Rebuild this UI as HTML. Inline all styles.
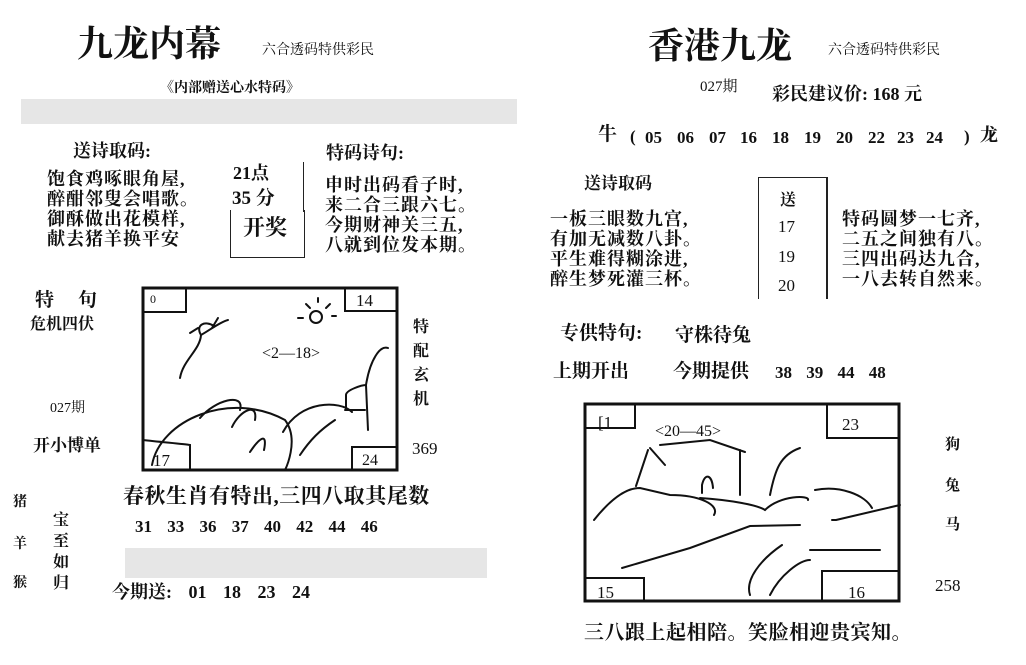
<!DOCTYPE html>
<html><head><meta charset="utf-8"><style>
body{margin:0;width:1026px;height:665px;background:#fff;overflow:hidden;position:relative;font-family:"Liberation Serif","Noto Serif CJK SC",serif;color:#111}
.t{position:absolute;white-space:nowrap;line-height:1}
.b{font-weight:bold}
.g{position:absolute;background:#e6e6e6}
.poem{position:absolute;font-size:18px;line-height:20px;font-weight:bold;white-space:pre;font-family:"Liberation Serif","Noto Serif CJK SC",serif;letter-spacing:1px}
svg{position:absolute;left:0;top:0}
</style></head><body>
<div class="t" style="left:77px;top:24px;font-size:36px;font-family:'Noto Serif CJK SC',serif;font-weight:bold">九龙内幕</div>
<div class="t" style="left:262px;top:44px;font-size:14px">六合透码特供彩民</div>
<div class="t b" style="left:160px;top:82px;font-size:14px">《内部赠送心水特码》</div>
<div class="g" style="left:21px;top:99px;width:496px;height:25px"></div>

<div class="t b" style="left:73px;top:142px;font-size:18px">送诗取码:</div>
<div class="poem" style="left:47px;top:169px">饱食鸡啄眼角屋,
醉酣邻叟会唱歌。
御酥做出花模样,
献去猪羊换平安</div>
<div class="t b" style="left:233px;top:164px;font-size:18px">21点</div>
<div class="t b" style="left:232px;top:189px;font-size:19px">35 分</div>
<div class="t b" style="left:243px;top:217px;font-size:22px">开奖</div>
<div style="position:absolute;left:230px;top:210px;width:73px;height:47px;border-left:1px solid #222;border-bottom:1px solid #222;border-right:1px solid #222"></div>
<div style="position:absolute;left:303px;top:162px;height:50px;border-left:1px solid #222"></div>
<div class="t b" style="left:326px;top:144px;font-size:18px">特码诗句:</div>
<div class="poem" style="left:325px;top:175px">申时出码看子时,
来二合三跟六七。
今期财神关三五,
八就到位发本期。</div>

<div class="t b" style="left:35px;top:291px;font-size:19px;letter-spacing:24px">特句</div>
<div class="t b" style="left:30px;top:317px;font-size:16px">危机四伏</div>
<div class="t" style="left:50px;top:402px;font-size:14px">027期</div>
<div class="t b" style="left:33px;top:437px;font-size:17px">开小博单</div>
<div class="t b" style="left:413px;top:316px;font-size:16px;line-height:24px;white-space:normal;width:18px">特配玄机</div>
<div class="t" style="left:412px;top:440px;font-size:17px">369</div>

<div class="t b" style="left:123px;top:486px;font-size:21px;letter-spacing:0.5px">春秋生肖有特出,三四八取其尾数</div>
<div class="t b" style="left:135px;top:518px;font-size:17px;word-spacing:11px">31 33 36 37 40 42 44 46</div>
<div class="g" style="left:125px;top:548px;width:362px;height:30px"></div>
<div class="t b" style="left:112px;top:583px;font-size:18px;word-spacing:12px">今期送: 01 18 23 24</div>
<div class="t b" style="left:13px;top:496px;font-size:14px">猪</div>
<div class="t b" style="left:13px;top:538px;font-size:14px">羊</div>
<div class="t b" style="left:13px;top:577px;font-size:14px">猴</div>
<div class="t b" style="left:53px;top:510px;font-size:16px;line-height:21px;width:18px;white-space:normal">宝至如归</div>

<div class="t" style="left:648px;top:26px;font-size:36px;font-family:'Noto Serif CJK SC',serif;font-weight:bold">香港九龙</div>
<div class="t" style="left:828px;top:44px;font-size:14px">六合透码特供彩民</div>
<div class="t" style="left:700px;top:80px;font-size:15px">027期</div>
<div class="t b" style="left:772px;top:85px;font-size:18px">彩民建议价: 168 元</div>
<div class="t b" style="left:598px;top:125px;font-size:19px">牛</div>
<div class="t b" style="left:630px;top:128px;font-size:17px">(</div>
<div class="t b" style="left:645px;top:129px;font-size:17px">05</div>
<div class="t b" style="left:677px;top:129px;font-size:17px">06</div>
<div class="t b" style="left:709px;top:129px;font-size:17px">07</div>
<div class="t b" style="left:740px;top:129px;font-size:17px">16</div>
<div class="t b" style="left:772px;top:129px;font-size:17px">18</div>
<div class="t b" style="left:804px;top:129px;font-size:17px">19</div>
<div class="t b" style="left:836px;top:129px;font-size:17px">20</div>
<div class="t b" style="left:868px;top:129px;font-size:17px">22</div>
<div class="t b" style="left:897px;top:129px;font-size:17px">23</div>
<div class="t b" style="left:926px;top:129px;font-size:17px">24</div>
<div class="t b" style="left:964px;top:128px;font-size:17px">)</div>
<div class="t b" style="left:980px;top:126px;font-size:18px">龙</div>

<div class="t b" style="left:584px;top:175px;font-size:17px">送诗取码</div>
<div class="poem" style="left:550px;top:209px;line-height:20px">一板三眼数九宫,
有加无减数八卦。
平生难得糊涂进,
醉生梦死灌三杯。</div>
<div style="position:absolute;left:758px;top:177px;width:67px;height:121px;border-left:1px solid #222;border-top:1px solid #222;border-right:2px solid #222"></div>
<div class="t b" style="left:780px;top:193px;font-size:16px">送</div>
<div class="t" style="left:778px;top:218px;font-size:17px">17</div>
<div class="t" style="left:778px;top:248px;font-size:17px">19</div>
<div class="t" style="left:778px;top:277px;font-size:17px">20</div>
<div class="poem" style="left:842px;top:209px;line-height:20px">特码圆梦一七齐,
二五之间独有八。
三四出码达九合,
一八去转自然来。</div>

<div class="t b" style="left:560px;top:324px;font-size:19px">专供特句:</div>
<div class="t b" style="left:675px;top:326px;font-size:19px">守株待兔</div>
<div class="t b" style="left:553px;top:362px;font-size:19px">上期开出</div>
<div class="t b" style="left:673px;top:362px;font-size:19px">今期提供</div>
<div class="t b" style="left:775px;top:364px;font-size:17px;word-spacing:10px">38 39 44 48</div>
<div class="t b" style="left:945px;top:438px;font-size:15px">狗</div>
<div class="t b" style="left:945px;top:479px;font-size:15px">兔</div>
<div class="t b" style="left:945px;top:518px;font-size:15px">马</div>
<div class="t" style="left:935px;top:577px;font-size:17px">258</div>
<div class="t b" style="left:584px;top:623px;font-size:20px;letter-spacing:0.5px">三八跟上起相陪。笑脸相迎贵宾知。</div>

<svg width="1026" height="665" fill="none" stroke="#111" stroke-width="2" stroke-linecap="round">
<rect x="143" y="288" width="254" height="182" stroke-width="3"/>
<path d="M143 312 H186 V288 M345 288 V311 H397 M143 440 C160 442 185 444 190 445 V470 M352 470 V447 H397"/>
<path d="M152 465 C160 420 230 390 285 420 C300 440 285 470 285 470 M283 432 C300 400 340 400 352 412 M200 418 C215 400 245 392 240 410 M232 427 C240 410 258 402 255 420 M250 452 C258 440 268 430 264 450 M300 455 C310 440 320 430 335 420"/>
<path d="M180 378 C183 360 200 350 201 335 C195 325 205 320 214 326 M201 335 C210 330 220 322 228 320 M212 328 L218 318 M190 333 L198 328"/>
<circle cx="316" cy="317" r="6"/>
<path d="M306 304 l4 4 M318 298 v4 M330 304 l-4 4 M298 318 h5 M332 316 h4"/>
<text x="262" y="358" font-size="16" fill="#111" stroke="none" font-family="Liberation Serif">&lt;2—18&gt;</text>
<text x="150" y="303" font-size="12" fill="#111" stroke="none">0</text>
<text x="356" y="306" font-size="17" fill="#111" stroke="none">14</text>
<text x="153" y="466" font-size="17" fill="#111" stroke="none">17</text>
<text x="362" y="465" font-size="16" fill="#111" stroke="none">24</text>
<path d="M368 430 L366 385 C370 360 380 345 388 348 M346 410 V395 C346 390 362 385 366 385 M345 410 H365"/>

<rect x="585" y="404" width="314" height="197" stroke-width="3"/>
<path d="M585 428 H635 V404 M827 404 V438 H899 M585 578 H644 V601 M822 601 V571 H899"/>
<text x="598" y="428" font-size="17" fill="#111" stroke="none">[1</text>
<text x="842" y="430" font-size="17" fill="#111" stroke="none">23</text>
<text x="597" y="598" font-size="17" fill="#111" stroke="none">15</text>
<text x="848" y="598" font-size="17" fill="#111" stroke="none">16</text>
<text x="655" y="436" font-size="16" fill="#111" stroke="none" font-family="Liberation Serif">&lt;20—45&gt;</text>
<path d="M594 520 C610 500 625 488 640 488 L670 495 C700 495 720 505 714 515 M650 448 L665 465 M648 450 L636 486 M660 445 L710 440 L745 452 M740 450 V495 M700 498 C730 500 758 505 765 510 C780 495 810 495 808 500 M815 490 C840 485 865 495 872 508 M832 520 L836 520 M900 505 L836 520"/>
<path d="M702 493 V485 C705 472 712 475 713 488"/>
<path d="M770 495 C775 470 780 455 800 448"/>
<path d="M622 568 L690 548 L750 526 L800 525 M782 545 C760 560 745 580 750 595 M770 595 C780 575 800 560 810 560 M810 550 L880 550"/>
</svg>
</body></html>
